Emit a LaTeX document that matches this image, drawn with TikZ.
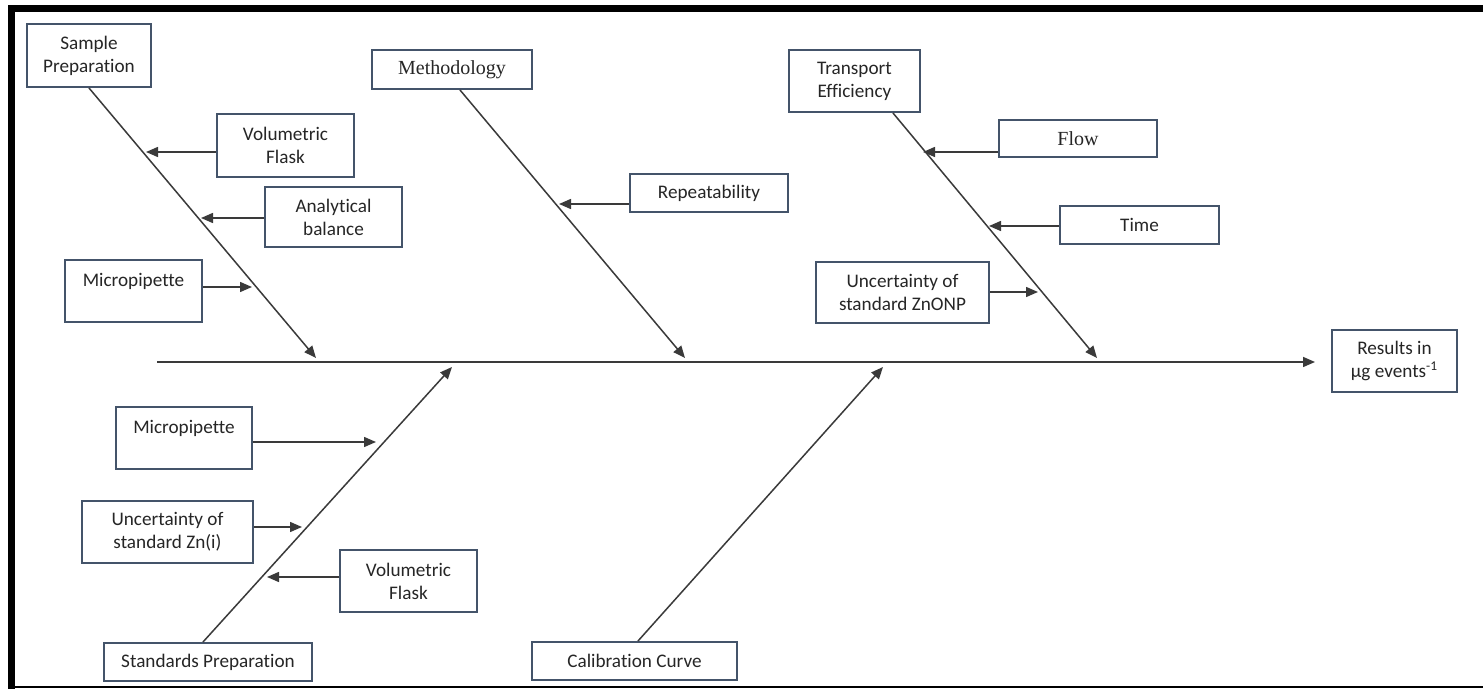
\documentclass[tikz,border=0pt]{standalone}
\usepackage{fontspec}
\setmainfont{Carlito}[Ligatures=NoCommon]
\newfontfamily\serifx{Liberation Serif}[Ligatures=NoCommon]
\usetikzlibrary{arrows.meta,calc}
\definecolor{boxc}{HTML}{44546A}
\definecolor{linec}{HTML}{3A3A3A}
\definecolor{txtc}{HTML}{262626}
\begin{document}
\begin{tikzpicture}[x=0.5pt,y=-0.5pt,
  box/.style={draw=boxc, line width=1pt, fill=white, inner sep=0pt, align=center,
    font=\fontsize{9.6}{11.5}\selectfont, text=txtc},
  serifbox/.style={box, font=\serifx\fontsize{10}{12}\selectfont},
  bone/.style={draw=linec, line width=0.75pt},
  arr/.style={draw=linec, line width=0.75pt, -{Triangle[length=6pt,width=5pt]}},
]
\useasboundingbox (0,0) rectangle (1483,689);
\fill[white] (0,0) rectangle (1483,689);
% frame
\fill[black] (8,5) rectangle (1483,12);
\fill[black] (8,5) rectangle (15,689);
\draw[black, line width=1pt] (8,687) -- (1483,687);

% cause boxes
\node[box, minimum width=62pt, minimum height=31.5pt] (sp) at (89,55.5) {Sample\\Preparation};
\node[box, minimum width=68.5pt, minimum height=31.5pt] (vfa) at (285.5,145.5) {Volumetric\\Flask};
\node[box, minimum width=68.5pt, minimum height=30pt] (ab) at (333.5,217) {Analytical\\balance};
\node[box, minimum width=68.5pt, minimum height=31pt] (mpa) at (133.5,291) {Micropipette\\\mbox{}};
\node[serifbox, minimum width=80pt, minimum height=19.5pt] (meth) at (452,69.5) {Methodology};
\node[box, minimum width=79pt, minimum height=19pt] (rep) at (709,193) {Repeatability};
\node[box, minimum width=65.5pt, minimum height=31pt] (te) at (854.5,81) {Transport\\Efficiency};
\node[serifbox, minimum width=79pt, minimum height=18.5pt] (flow) at (1078,138.5) {Flow};
\node[box, minimum width=79.5pt, minimum height=19pt] (time) at (1139.5,225) {Time};
\node[box, minimum width=86.5pt, minimum height=30.5pt] (znonp) at (902.5,292.5) {Uncertainty of\\standard ZnONP};
\node[box, minimum width=62.5pt, minimum height=31pt] (res) at (1394.5,361) {Results in\\µg events\textsuperscript{-1}};
\node[box, minimum width=68pt, minimum height=31pt] (mpb) at (184,438) {Micropipette\\\mbox{}};
\node[box, minimum width=85.5pt, minimum height=31pt] (zni) at (167.5,532) {Uncertainty of\\standard Zn(i)};
\node[box, minimum width=68.5pt, minimum height=31pt] (vfb) at (408.5,581) {Volumetric\\Flask};
\node[box, minimum width=104pt, minimum height=19pt] (stdp) at (208,662) {Standards Preparation};
\node[box, minimum width=102.5pt, minimum height=19pt] (cal) at (634.5,661) {Calibration Curve};

% spine
\coordinate (s0) at (157,362);
\draw[arr, shorten >=8pt] (s0) -- (s0 -| res.west);

% main bones
\coordinate (e1) at (316,358);
\coordinate (e2) at (685,358);
\coordinate (e3) at (1097,358);
\coordinate (e4) at (452,367);
\coordinate (e5) at (883,367);
\draw[arr] (sp.south) -- (e1);
\draw[arr] ($(meth.south)+(8,0)$) -- (e2);
\draw[arr] ($(te.south)+(38.5,0)$) -- (e3);
\draw[arr] ($(stdp.north)+(-5,0)$) -- (e4);
\draw[arr] ($(cal.north)+(3.5,0)$) -- (e5);

% sub-cause arrows
\coordinate (a1) at (146,152);
\coordinate (a2) at (201,218);
\coordinate (a3) at (252,287);
\coordinate (a4) at (559,204);
\coordinate (a5) at (923,152);
\coordinate (a6) at (989,226);
\coordinate (a7) at (1038,292);
\coordinate (a8) at (376,442);
\coordinate (a9) at (302,527);
\coordinate (a10) at (267,577);
\draw[arr] (vfa.west |- a1) -- (a1);
\draw[arr] (ab.west |- a2) -- (a2);
\draw[arr] (mpa.east |- a3) -- (a3);
\draw[arr] (rep.west |- a4) -- (a4);
\draw[arr] (flow.west |- a5) -- (a5);
\draw[arr] (time.west |- a6) -- (a6);
\draw[arr] (znonp.east |- a7) -- (a7);
\draw[arr] (mpb.east |- a8) -- (a8);
\draw[arr] (zni.east |- a9) -- (a9);
\draw[arr] (vfb.west |- a10) -- (a10);
\end{tikzpicture}
\end{document}
